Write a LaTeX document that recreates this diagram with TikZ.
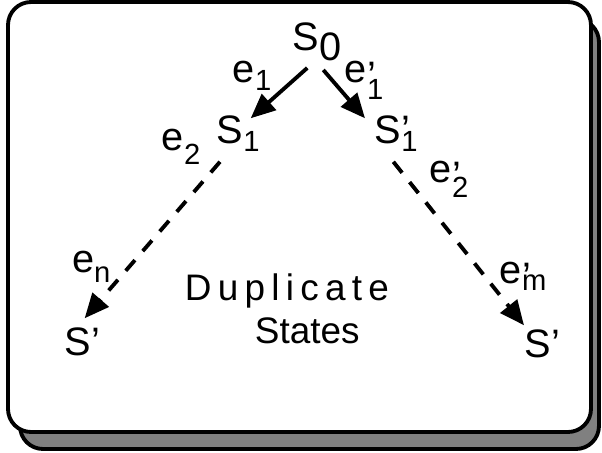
\documentclass[tikz,border=0pt]{standalone}
\usepackage{fontspec}
\setmainfont{Liberation Sans}
\usetikzlibrary{arrows.meta}

% lowered index and a prime that does not take up width
\newcommand{\lowsub}[2][2.5pt]{\raisebox{-#1}{\fontsize{8.3}{8.3}\selectfont #2}}
\newcommand{\primed}[1][0pt]{\rlap{\raisebox{-#1}{’}}}

\tikzset{
  lbl/.style={anchor=base west, inner sep=0pt, outer sep=0pt, font=\fontsize{11.3}{11.3}\selectfont},
  trans/.style={line width=1.1pt, -{Triangle[length=7pt,width=6pt]}},
  dupl/.style={trans, dash pattern=on 4pt off 3.4pt},
  panel/.style={draw, line width=1.1pt, rounded corners=0.23cm},
}

\begin{document}
\begin{tikzpicture}
      \useasboundingbox (0,0) rectangle (6.02,4.52);

      % Shadowed panel
      \draw[panel, fill=black!50] (0.20,0.03) rectangle (5.99,4.33);
      \draw[panel, fill=white] (0.08,0.20) rectangle (5.91,4.50);

      % States
      \node[lbl] (s0) at (2.93,4.02) {S\raisebox{-3pt}{0}};
      \node[lbl] (s1) at (2.17,3.09) {S\lowsub{1}};
      \node[lbl] (s1p) at (3.75,3.09) {S\primed\lowsub{1}};
      \node[lbl] (sl) at (0.65,0.97) {S’};
      \node[lbl] (sr) at (5.25,0.95) {S’};

      % Event labels
      \node[lbl] (e1) at (2.33,3.70) {e\lowsub{1}};
      \node[lbl] (e1p) at (3.45,3.70) {e\primed[2pt]\lowsub[5pt]{1}};
      \node[lbl] (e2) at (1.62,3.02) {e\lowsub[4pt]{2}};
      \node[lbl] (e2p) at (4.30,2.70) {e\primed[2pt]\lowsub[4.5pt]{2}};
      \node[lbl] (en) at (0.72,1.80) {e\lowsub[3pt]{n}};
      \node[lbl] (emp) at (5.00,1.69) {e\primed[2pt]\lowsub[2pt]{m}};

      % Caption
      \node[lbl, font=\fontsize{10.5}{10.5}\selectfont\addfontfeature{LetterSpace=17}] (dup) at (1.85,1.52) {Duplicate};
      \node[lbl, font=\fontsize{10.5}{10.5}\selectfont] (sts) at (2.55,1.09) {States};

      % Transitions
      \draw[trans] ([xshift=-1mm,yshift=-0.7mm]s0.south) -- ([xshift=-0.9mm,yshift=-0.3mm]s1.north east);
      \draw[trans] ([xshift=0.6mm,yshift=-0.9mm]s0.south) -- ([xshift=-1mm,yshift=-0.3mm]s1p.north west);
      \draw[dupl] ([xshift=0.3mm,yshift=-1mm]s1.south west) -- ([xshift=0.2mm,yshift=0.9mm]sl.north);
      \draw[dupl] ([xshift=-0.3mm,yshift=-1mm]s1p.south) -- ([xshift=-0.1mm,yshift=0.4mm]sr.north west);
\end{tikzpicture}
\end{document}
